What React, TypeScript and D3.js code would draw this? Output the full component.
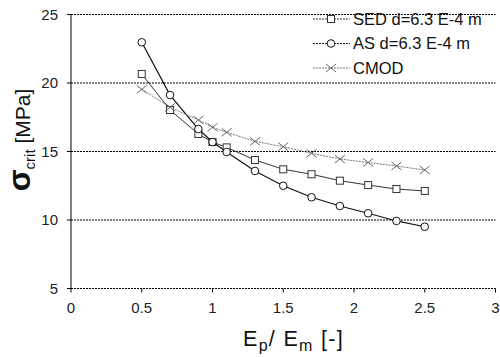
import React from "react";
import * as d3 from "d3";

const xValues = [0.5, 0.7, 0.9, 1.0, 1.1, 1.3, 1.5, 1.7, 1.9, 2.1, 2.3, 2.5];
const sedValues = [20.66, 18.03, 16.28, 15.69, 15.3, 14.38, 13.7, 13.34, 12.87, 12.55, 12.26, 12.12];
const asValues = [22.97, 19.12, 16.64, 15.69, 14.96, 13.58, 12.5, 11.66, 11.02, 10.49, 9.93, 9.51];
const cmodValues = [19.54, 18.23, 17.3, 16.77, 16.4, 15.74, 15.35, 14.87, 14.45, 14.2, 13.94, 13.65];
const xTicks = [0, 0.5, 1, 1.5, 2, 2.5, 3];
const yTicks = [5, 10, 15, 20, 25];
const legendLabels = ["SED d=6.3 E-4 m", "AS d=6.3 E-4 m", "CMOD"];

const W = 500;
const H = 357;
const font = "Liberation Sans, Arial, sans-serif";

export default function App() {
  const x = d3.scaleLinear().domain([0, 3]).range([71, 495.5]);
  const y = d3.scaleLinear().domain([5, 25]).range([288.5, 14.5]);
  const line = d3
    .line<[number, number]>()
    .x((d) => x(d[0]))
    .y((d) => y(d[1]));

  const series = [
    { name: legendLabels[0], values: sedValues, marker: "square", stroke: "#333", dash: "", width: 1 },
    { name: legendLabels[1], values: asValues, marker: "circle", stroke: "#111", dash: "", width: 1.2 },
    { name: legendLabels[2], values: cmodValues, marker: "cross", stroke: "#777", dash: "2,1", width: 1 },
  ];

  const drawMarker = (type: string, cx: number, cy: number, key: string | number) => {
    if (type === "square")
      return <rect key={key} x={cx - 3.5} y={cy - 3.5} width={7} height={7} fill="white" stroke="#333" strokeWidth={1} />;
    if (type === "circle")
      return <circle key={key} cx={cx} cy={cy} r={3.8} fill="white" stroke="#111" strokeWidth={1} />;
    return (
      <path key={key} d={`M${cx - 5},${cy - 4}L${cx + 5},${cy + 4}M${cx - 5},${cy + 4}L${cx + 5},${cy - 4}`} stroke="#666" strokeWidth={1} fill="none" />
    );
  };

  return (
    <svg width={W} height={H} style={{ position: "absolute", left: 0, top: 0, background: "white" }} fontFamily={font}>
      {/* gridlines */}
      {yTicks.map((t) => (
        <line key={t} x1={x(0)} x2={x(3)} y1={y(t)} y2={y(t)} stroke="#000" strokeWidth={1} strokeDasharray="2,1" />
      ))}
      {/* y axis */}
      <line x1={x(0)} x2={x(0)} y1={y(25)} y2={y(5)} stroke="#000" strokeWidth={1} />
      {yTicks.map((t) => (
        <g key={"yt" + t}>
          <line x1={x(0) - 4} x2={x(0)} y1={y(t)} y2={y(t)} stroke="#000" />
          <text x={58} y={y(t)} dy="0.35em" textAnchor="end" fontSize={15} fill="#222">{t}</text>
        </g>
      ))}
      {xTicks.map((t) => (
        <g key={"xt" + t}>
          <line x1={x(t)} x2={x(t)} y1={y(5)} y2={y(5) + 4} stroke="#000" />
          <text x={x(t)} y={y(5) + 24} textAnchor="middle" fontSize={15} fill="#222">{t}</text>
        </g>
      ))}
      {/* series */}
      {series.map((s) => {
        const pts = xValues.map((xv, i) => [xv, s.values[i]] as [number, number]);
        return (
          <g key={s.name}>
            <path d={line(pts) || ""} fill="none" stroke={s.stroke} strokeWidth={s.width} strokeDasharray={s.dash} />
            {pts.map((p, i) => drawMarker(s.marker, x(p[0]), y(p[1]), i))}
          </g>
        );
      })}
      {/* legend */}
      {series.map((s, i) => {
        const ly = 19 + i * 24.5;
        return (
          <g key={"lg" + i}>
            <line x1={313} x2={350} y1={ly} y2={ly} stroke={s.stroke} strokeWidth={1} strokeDasharray="2,1" />
            {drawMarker(s.marker, 331, ly, "m")}
            <text x={353} y={ly} dy="0.36em" fontSize={16.5} fill="#111">{s.name}</text>
          </g>
        );
      })}
      {/* x axis label */}
      <text x={243} y={346} fontSize={21.5} fill="#111" letterSpacing={1.3}>
        E<tspan fontSize={16} dy={5}>p</tspan>
        <tspan dy={-5}>/ E</tspan>
        <tspan fontSize={16} dy={5}>m</tspan>
        <tspan dy={-5}>  [-]</tspan>
      </text>
      {/* y axis label */}
      <text transform="translate(30,140) rotate(-90)" textAnchor="middle" fontSize={21} fill="#111">
        <tspan fontSize={32} fontWeight="bold">σ</tspan>
        <tspan fontSize={15} dy={5}>crit</tspan>
        <tspan dy={-5}> [MPa]</tspan>
      </text>
    </svg>
  );
}
